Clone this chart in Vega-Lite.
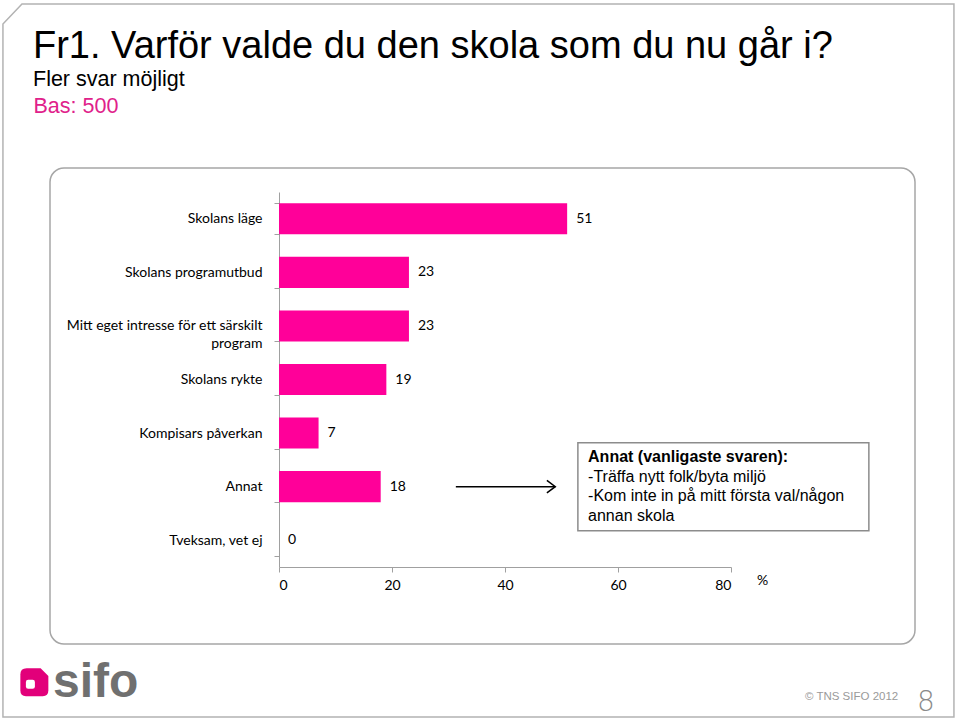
{
  "$schema": "https://vega.github.io/schema/vega-lite/v6.json",
  "width": 865,
  "height": 476,
  "autosize": "none",
  "padding": {"left": 50, "top": 168, "right": 45, "bottom": 75},
  "background": "white",
  "view": {"stroke": "#a6a6a6", "strokeWidth": 1.5, "cornerRadius": 14, "fill": "white"},
  "title": {
    "text": "Fr1. Varför valde du den skola som du nu går i?",
    "subtitle": "Fler svar möjligt",
    "anchor": "start",
    "frame": "group",
    "dx": -17,
    "offset": -89,
    "font": "Liberation Sans",
    "fontSize": 38,
    "fontWeight": "normal",
    "color": "#000000",
    "subtitleFont": "Liberation Sans",
    "subtitleFontSize": 21.5,
    "subtitleColor": "#000000",
    "subtitlePadding": 3
  },
  "data": {
    "values": [
      {"category": "Skolans läge", "value": 51},
      {"category": "Skolans programutbud", "value": 23},
      {"category": "Mitt eget intresse för ett särskilt program", "value": 23},
      {"category": "Skolans rykte", "value": 19},
      {"category": "Kompisars påverkan", "value": 7},
      {"category": "Annat", "value": 18},
      {"category": "Tveksam, vet ej", "value": 0}
    ]
  },
  "layer": [
    {
      "mark": {"type": "bar", "color": "#FF0099"},
      "encoding": {
        "x": {
          "field": "value",
          "type": "quantitative",
          "scale": {"domain": [0, 80], "range": [229, 681], "nice": false, "zero": true},
          "axis": {
            "values": [0, 20, 40, 60, 80],
            "offset": -77,
            "grid": false,
            "domainColor": "#a0a0a0",
            "domainWidth": 1,
            "tickColor": "#a0a0a0",
            "tickSize": 5,
            "labelFont": "Lato",
            "labelFontSize": 14,
            "labelColor": "#000000",
            "labelPadding": 6,
            "title": "%",
            "titleFont": "Lato",
            "titleFontSize": 14,
            "titleFontWeight": "normal",
            "titleColor": "#000000",
            "titleX": 712,
            "titleY": 13,
            "titleAlign": "center",
            "titleBaseline": "middle"
          }
        },
        "y": {
          "field": "category",
          "type": "nominal",
          "sort": null,
          "scale": {
            "domain": ["Skolans läge", "Skolans programutbud", "Mitt eget intresse för ett särskilt program", "Skolans rykte", "Kompisars påverkan", "Annat", "Tveksam, vet ej"],
            "range": [24, 399],
            "paddingInner": 0.42,
            "paddingOuter": 0.21
          },
          "axis": {
            "offset": -229,
            "domainColor": "#a0a0a0",
            "domainWidth": 1,
            "tickColor": "#a0a0a0",
            "tickSize": 5,
            "tickBand": "extent",
            "labelFont": "Lato",
            "labelFontSize": 14,
            "labelColor": "#000000",
            "labelPadding": 12,
            "labelLimit": 400,
            "labelLineHeight": 18,
            "labelExpr": "datum.value == 'Mitt eget intresse för ett särskilt program' ? ['Mitt eget intresse för ett särskilt', 'program'] : datum.value",
            "title": "Bas: 500",
            "titleFont": "Liberation Sans",
            "titleFontSize": 21.5,
            "titleFontWeight": "normal",
            "titleColor": "#E0218A",
            "titleAngle": 0,
            "titleAlign": "left",
            "titleBaseline": "alphabetic",
            "titleX": -246,
            "titleY": -56
          }
        }
      }
    },
    {
      "data": {"values": [{}]},
      "mark": {
        "type": "point",
        "shape": "M-1,-0.7077L-0.96,-0.7497L1,-0.7497L1,0.7497L-1,0.7497Z",
        "size": 904401,
        "filled": false,
        "stroke": "#b3b3b3",
        "strokeWidth": 1.5,
        "opacity": 1,
        "yOffset": -19
      },
      "encoding": {
        "x": {"datum": 35.3, "type": "quantitative"},
        "y": {"datum": "Skolans rykte", "type": "nominal"}
      }
    },
    {
      "mark": {"type": "text", "align": "left", "baseline": "middle", "dx": 9, "font": "Lato", "fontSize": 14, "color": "#000000"},
      "encoding": {
        "x": {"field": "value", "type": "quantitative"},
        "y": {"field": "category", "type": "nominal", "sort": null},
        "text": {"field": "value", "type": "quantitative"}
      }
    },
    {
      "data": {"values": [{}]},
      "mark": {"type": "rule", "color": "#000000", "strokeWidth": 1.5},
      "encoding": {
        "x": {"datum": 31.3, "type": "quantitative"},
        "x2": {"datum": 48.9},
        "y": {"datum": "Annat", "type": "nominal"}
      }
    },
    {
      "data": {"values": [{}]},
      "mark": {"type": "point", "shape": "M-1.2,-0.9L0,0L-1.2,0.9", "size": 196, "filled": false, "stroke": "#000000", "strokeWidth": 1.5, "opacity": 1},
      "encoding": {
        "x": {"datum": 48.9, "type": "quantitative"},
        "y": {"datum": "Annat", "type": "nominal"}
      }
    },
    {
      "data": {"values": [{}]},
      "mark": {"type": "bar", "height": 88, "fill": "white", "stroke": "#8c8c8c", "strokeWidth": 1.5},
      "encoding": {
        "x": {"datum": 52.9, "type": "quantitative"},
        "x2": {"datum": 104.4},
        "y": {"datum": "Annat", "type": "nominal"}
      }
    },
    {
      "data": {"values": [{}]},
      "mark": {"type": "text", "text": "Annat (vanligaste svaren):", "align": "left", "baseline": "middle", "dy": -30, "font": "Liberation Sans", "fontSize": 16, "fontWeight": "bold", "color": "#000000"},
      "encoding": {
        "x": {"datum": 54.7, "type": "quantitative"},
        "y": {"datum": "Annat", "type": "nominal"}
      }
    },
    {
      "data": {"values": [{}]},
      "mark": {"type": "text", "text": ["-Träffa nytt folk/byta miljö", "-Kom inte in på mitt första val/någon", "annan skola"], "lineHeight": 19.7, "align": "left", "baseline": "middle", "dy": -10, "font": "Liberation Sans", "fontSize": 16, "color": "#000000"},
      "encoding": {
        "x": {"datum": 54.7, "type": "quantitative"},
        "y": {"datum": "Annat", "type": "nominal"}
      }
    },
    {
      "data": {"values": [{}]},
      "mark": {"type": "point", "shape": "M-1,-0.55Q-1,-1 -0.55,-1L0.45,-1L1,-0.45L1,0.6Q1,1 0.6,1L-0.6,1Q-1,1 -1,0.6Z", "size": 784, "filled": true, "fill": "#E2007A", "strokeWidth": 0, "opacity": 1, "yOffset": 142},
      "encoding": {
        "x": {"datum": -43.3, "type": "quantitative"},
        "y": {"datum": "Tveksam, vet ej", "type": "nominal"}
      }
    },
    {
      "data": {"values": [{}]},
      "mark": {"type": "point", "shape": "M-1,-0.5Q-1,-1 -0.5,-1L0.5,-1Q1,-1 1,-0.5L1,0.5Q1,1 0.5,1L-0.5,1Q-1,1 -1,0.5Z", "size": 81, "filled": true, "fill": "white", "strokeWidth": 0, "opacity": 1, "yOffset": 144},
      "encoding": {
        "x": {"datum": -44.0, "type": "quantitative"},
        "y": {"datum": "Tveksam, vet ej", "type": "nominal"}
      }
    },
    {
      "data": {"values": [{}]},
      "mark": {"type": "text", "text": "sifo", "align": "left", "baseline": "alphabetic", "dy": 157, "font": "Liberation Sans", "fontSize": 48, "fontWeight": "bold", "color": "#707070"},
      "encoding": {
        "x": {"datum": -40, "type": "quantitative"},
        "y": {"datum": "Tveksam, vet ej", "type": "nominal"}
      }
    },
    {
      "data": {"values": [{}]},
      "mark": {"type": "text", "text": "© TNS SIFO 2012", "align": "right", "baseline": "middle", "dy": 157, "font": "Liberation Sans", "fontSize": 11.5, "color": "#9a9a9a"},
      "encoding": {
        "x": {"datum": 109.6, "type": "quantitative"},
        "y": {"datum": "Tveksam, vet ej", "type": "nominal"}
      }
    },
    {
      "data": {"values": [{}]},
      "mark": {"type": "text", "text": "8", "align": "center", "baseline": "middle", "dy": 163, "font": "DejaVu Sans", "fontSize": 28, "fontWeight": 200, "color": "#8a8a8a"},
      "encoding": {
        "x": {"datum": 114.5, "type": "quantitative"},
        "y": {"datum": "Tveksam, vet ej", "type": "nominal"}
      }
    }
  ]
}
